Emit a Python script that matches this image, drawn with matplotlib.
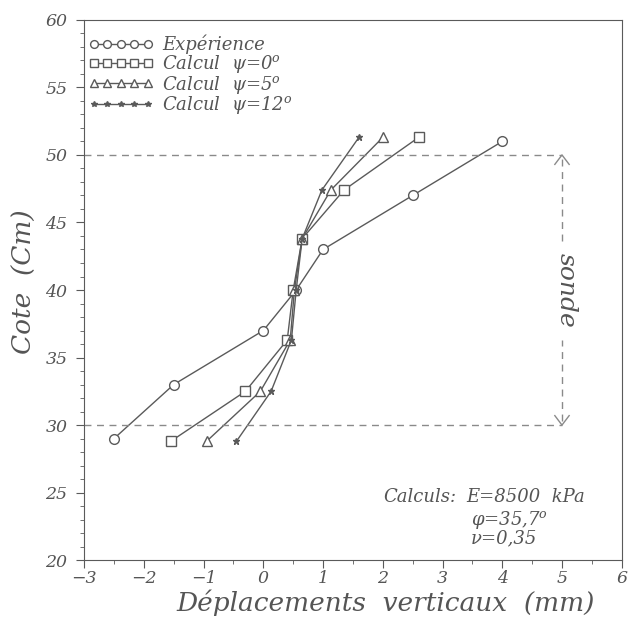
import matplotlib.pyplot as plt
import matplotlib.ticker as ticker

plt.rcParams['font.family'] = ['DejaVu Serif']
plt.rcParams['font.style'] = 'italic'
plt.rcParams['mathtext.fontset'] = 'dejavuserif'

grey = '#5a5a5a'
txt = '#555555'
dash = '#8a8a8a'

# cote (cm)
y_exp = [29, 33, 37, 40, 43, 47, 51]
y_calc = [28.8, 32.5, 36.3, 40, 43.8, 47.4, 51.3]

# deplacements verticaux (mm)
x_exp = [-2.5, -1.5, 0.0, 0.55, 1.0, 2.5, 4.0]
x_psi0 = [-1.55, -0.3, 0.4, 0.5, 0.65, 1.35, 2.6]
x_psi5 = [-0.95, -0.05, 0.45, 0.52, 0.65, 1.13, 2.0]
x_psi12 = [-0.45, 0.13, 0.47, 0.55, 0.65, 0.98, 1.6]

fig = plt.figure(figsize=(6.28, 6.21), dpi=100)
ax = fig.add_axes([0.134, 0.098, 0.856, 0.870])

lw = 1.0
ax.plot(x_exp, y_exp, color=grey, lw=lw, marker='o', ms=7, mfc='white', mec=grey, label='Expérience')
ax.plot(x_psi0, y_calc, color=grey, lw=lw, marker='s', ms=6.5, mfc='white', mec=grey, label='Calcul  ψ=0$^o$')
ax.plot(x_psi5, y_calc, color=grey, lw=lw, marker='^', ms=6.5, mfc='white', mec=grey, label='Calcul  ψ=5$^o$')
ax.plot(x_psi12, y_calc, color=grey, lw=lw, marker='*', ms=5, mfc=grey, mec=grey, label='Calcul  ψ=12$^o$')

# zone de la sonde
ls = (0, (5, 4))
ax.plot([-3, 5], [50, 50], color=dash, lw=1.0, ls=ls)
ax.plot([-3, 5], [30, 30], color=dash, lw=1.0, ls=ls)
ax.plot([5, 5], [30.3, 36.3], color=dash, lw=1.0, ls=ls)
ax.plot([5, 5], [43.6, 49.7], color=dash, lw=1.0, ls=ls)
ax.plot([4.88, 5, 5.12], [49.3, 50, 49.3], color=dash, lw=1.0)
ax.plot([4.88, 5, 5.12], [30.7, 30, 30.7], color=dash, lw=1.0)
ax.text(5.07, 40.0, 'sonde', rotation=-90, ha='center', va='center', fontsize=18, color=txt)

ax.text(2.0, 24.7, 'Calculs:', fontsize=13, color=txt, va='center')
ax.text(3.4, 24.7, 'E=8500  kPa', fontsize=13, color=txt, va='center')
ax.text(3.48, 23.0, 'φ=35,7$^o$', fontsize=13, color=txt, va='center')
ax.text(3.48, 21.6, 'ν=0,35', fontsize=13, color=txt, va='center')

ax.set_xlim(-3, 6)
ax.set_ylim(20, 60)
ax.xaxis.set_major_locator(ticker.MultipleLocator(1))
ax.xaxis.set_minor_locator(ticker.MultipleLocator(0.5))
ax.yaxis.set_major_locator(ticker.MultipleLocator(5))
ax.yaxis.set_minor_locator(ticker.MultipleLocator(1))
ax.tick_params(which='major', length=6, color=grey, labelcolor=txt, labelsize=12.5)
ax.tick_params(axis='x', which='major', pad=1)
ax.tick_params(axis='y', which='major', pad=6)
ax.tick_params(which='minor', length=3, color=grey)
for s in ax.spines.values():
    s.set_color(grey)

ax.set_xlabel('Déplacements  verticaux  (mm)', fontsize=19, color=txt)
ax.xaxis.set_label_coords(0.56, -0.055)
ax.set_ylabel('Cote  (Cm)', fontsize=19, color=txt)
ax.yaxis.set_label_coords(-0.087, 0.515)

ax.legend(loc='upper left', bbox_to_anchor=(0.008, 0.972), frameon=False, numpoints=5,
          handlelength=3.6, markerscale=0.8, fontsize=13, labelspacing=-0.08,
          handletextpad=0.5, borderaxespad=0, borderpad=0, labelcolor=txt)

plt.savefig('out.png', dpi=100)
